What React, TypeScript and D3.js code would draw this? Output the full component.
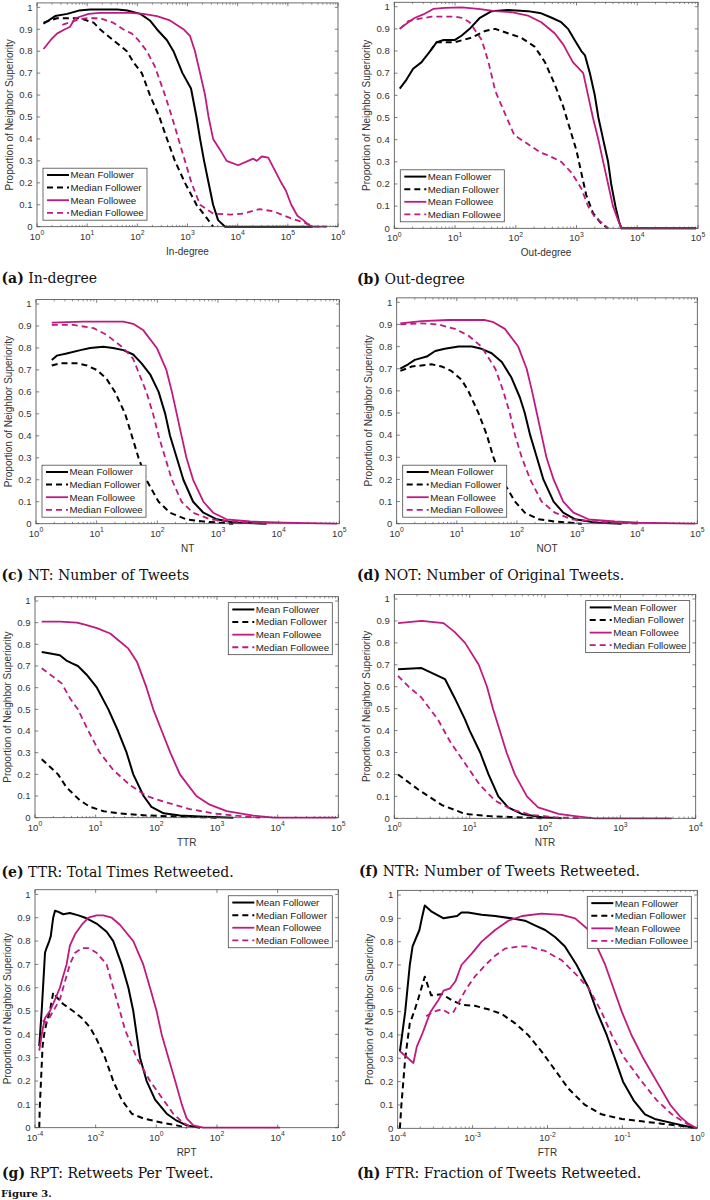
import React from 'react';
import * as d3 from 'd3';

type Pt = [number, number];

const SERIES_NAMES = ['Mean Follower', 'Median Follower', 'Mean Followee', 'Median Followee'];
const BLACK = '#000000';
const MAGENTA = '#BF1A80';

// ---------- (a) In-degree ----------
const inMeanFollower: Pt[] = [[1.35,0.925],[2.3,0.96],[4.0,0.97],[6.8,0.985],[11.5,0.99],[40,0.99],[63,0.985],[115,0.97],[178,0.94],[245,0.9],[390,0.85],[525,0.8],[795,0.7],[1175,0.63],[1510,0.5],[1780,0.4],[2140,0.3],[2630,0.2],[3240,0.1],[4070,0.03],[5620,0],[316000,0]];
const inMedianFollower: Pt[] = [[1.35,0.93],[2.5,0.95],[4.0,0.95],[7.2,0.95],[13.5,0.93],[18,0.9],[33,0.85],[62,0.8],[83,0.75],[123,0.7],[178,0.6],[275,0.5],[390,0.4],[560,0.3],[890,0.2],[1510,0.1],[2240,0.05],[3240,0]];
const inMeanFollowee: Pt[] = [[1.35,0.81],[1.86,0.85],[2.5,0.88],[3.6,0.9],[4.5,0.91],[5.8,0.95],[10.7,0.97],[18,0.975],[72,0.975],[132,0.97],[245,0.96],[447,0.94],[830,0.9],[1120,0.87],[1410,0.8],[1780,0.7],[2240,0.6],[2630,0.5],[3240,0.4],[4470,0.35],[6030,0.3],[10200,0.28],[16200,0.3],[20400,0.31],[24000,0.3],[30200,0.32],[40700,0.315],[51300,0.27],[74100,0.2],[91200,0.165],[117000,0.1],[155000,0.05],[204000,0.03],[251000,0.01],[316000,0],[589000,0]];
const inMedianFollowee: Pt[] = [[3.2,0.92],[6.8,0.945],[9.5,0.95],[18,0.95],[33,0.93],[52,0.9],[78,0.88],[105,0.85],[155,0.8],[224,0.73],[355,0.6],[490,0.5],[660,0.4],[890,0.3],[1200,0.2],[1780,0.1],[3240,0.06],[7080,0.055],[12900,0.06],[27500,0.08],[51300,0.07],[110000,0.04],[204000,0.02],[347000,0],[589000,0]];

// ---------- (b) Out-degree ----------
const outMeanFollower: Pt[] = [[1.23,0.63],[1.58,0.67],[2.04,0.72],[2.82,0.75],[3.0,0.76],[3.9,0.8],[5.0,0.84],[6.5,0.85],[10,0.85],[12.9,0.87],[17.4,0.9],[25.7,0.95],[40,0.98],[74,0.985],[158,0.98],[263,0.97],[390,0.95],[560,0.93],[725,0.9],[930,0.85],[1200,0.8],[1380,0.78],[1660,0.7],[2000,0.6],[2290,0.5],[2750,0.4],[3310,0.3],[3720,0.2],[4370,0.1],[5010,0.03],[5500,0],[93000,0]];
const outMedianFollower: Pt[] = [[3.9,0.8],[5.0,0.84],[10,0.84],[18.6,0.86],[31,0.89],[46,0.9],[74,0.88],[123,0.86],[204,0.82],[302,0.75],[437,0.65],[603,0.55],[776,0.45],[1000,0.35],[1200,0.25],[1445,0.15],[1860,0.07],[2570,0.02],[3310,0]];
const outMeanFollowee: Pt[] = [[1.23,0.9],[1.7,0.93],[2.19,0.95],[3.0,0.965],[4.37,0.99],[6.8,0.995],[12.9,0.997],[24,0.99],[46,0.98],[85,0.975],[158,0.96],[263,0.93],[437,0.88],[603,0.83],[870,0.75],[1290,0.7],[1550,0.6],[1860,0.5],[2290,0.4],[2750,0.3],[3310,0.2],[3980,0.1],[4790,0.04],[5500,0],[93000,0]];
const outMedianFollowee: Pt[] = [[1.23,0.9],[1.7,0.935],[2.5,0.945],[4.1,0.955],[10,0.955],[12.9,0.95],[17.4,0.93],[27.5,0.85],[35.5,0.75],[46,0.62],[59,0.55],[76,0.48],[95,0.42],[158,0.38],[263,0.34],[339,0.33],[562,0.3],[832,0.25],[1200,0.18],[1550,0.1],[2000,0.05],[2750,0.02],[3310,0]];

// ---------- (c) NT ----------
const ntMeanFollower: Pt[] = [[1.82,0.745],[2.2,0.765],[3.2,0.775],[5.4,0.79],[7.8,0.8],[12.9,0.805],[18.6,0.8],[27.5,0.79],[40,0.77],[55,0.73],[76,0.68],[105,0.6],[135,0.5],[162,0.4],[209,0.3],[269,0.2],[389,0.1],[575,0.05],[955,0.02],[1780,0.005],[6300,0]];
const ntMedianFollower: Pt[] = [[1.82,0.72],[2.5,0.73],[4.7,0.73],[6.9,0.72],[10,0.7],[14.5,0.66],[20,0.6],[29.5,0.5],[38,0.4],[49,0.3],[66,0.2],[105,0.1],[162,0.05],[302,0.02],[575,0.01],[1780,0]];
const ntMeanFollowee: Pt[] = [[1.82,0.915],[6.0,0.92],[27.5,0.92],[40,0.91],[59,0.88],[98,0.8],[141,0.7],[174,0.6],[209,0.5],[251,0.4],[302,0.3],[389,0.2],[575,0.1],[832,0.05],[1380,0.02],[3390,0.01],[12000,0.005],[91000,0]];
const ntMedianFollowee: Pt[] = [[1.82,0.905],[4.1,0.905],[8.9,0.89],[14.5,0.86],[27.5,0.8],[40,0.75],[66,0.6],[85,0.5],[105,0.4],[135,0.3],[174,0.2],[251,0.1],[389,0.05],[741,0.02],[1780,0.01],[6300,0]];

// ---------- (d) NOT ----------
const notMeanFollower: Pt[] = [[1.15,0.7],[1.55,0.72],[2.0,0.74],[3.16,0.755],[4.37,0.78],[6.3,0.79],[10.7,0.8],[17.8,0.8],[25.7,0.79],[38,0.77],[56,0.73],[81,0.66],[112,0.57],[135,0.5],[166,0.4],[214,0.3],[275,0.2],[407,0.1],[589,0.05],[933,0.02],[2000,0.005],[5500,0]];
const notMedianFollower: Pt[] = [[1.15,0.69],[1.78,0.71],[3.8,0.72],[5.6,0.71],[8.1,0.69],[12,0.65],[15.5,0.6],[22.9,0.5],[31.6,0.4],[40.7,0.3],[56,0.2],[93,0.1],[135,0.05],[229,0.02],[427,0.01],[1200,0]];
const notMeanFollowee: Pt[] = [[1.15,0.905],[2.6,0.915],[7.2,0.92],[29.5,0.92],[40.7,0.91],[63,0.88],[105,0.8],[145,0.7],[178,0.6],[214,0.5],[257,0.4],[309,0.3],[407,0.2],[589,0.1],[871,0.05],[1550,0.02],[4270,0.01],[10500,0.005],[91000,0]];
const notMedianFollowee: Pt[] = [[1.15,0.9],[2.6,0.905],[4.9,0.9],[9.3,0.88],[15.5,0.85],[25.7,0.8],[43.7,0.7],[59,0.6],[76,0.5],[93,0.4],[120,0.3],[166,0.2],[257,0.1],[427,0.05],[813,0.02],[2000,0.01],[10500,0]];

// ---------- (e) TTR ----------
const ttrMeanFollower: Pt[] = [[1.29,0.765],[2.0,0.755],[2.57,0.75],[3.3,0.725],[4.27,0.71],[5.1,0.7],[7.1,0.66],[10.5,0.6],[16.2,0.5],[23.4,0.4],[32.4,0.3],[41.7,0.2],[61.7,0.1],[83,0.05],[132,0.02],[245,0.01],[525,0.005],[1860,0]];
const ttrMedianFollower: Pt[] = [[1.29,0.27],[2.4,0.2],[3.3,0.14],[5.5,0.08],[8.1,0.05],[13.5,0.03],[25,0.02],[54,0.012],[115,0.008],[282,0.005],[1000,0]];
const ttrMeanFollowee: Pt[] = [[1.29,0.905],[2.57,0.905],[4.9,0.9],[6.9,0.89],[10.5,0.875],[17.4,0.85],[23.4,0.82],[34.7,0.78],[47.9,0.72],[69,0.6],[89,0.5],[123,0.4],[170,0.3],[245,0.2],[457,0.1],[759,0.06],[1450,0.03],[2400,0.02],[3980,0.01],[8500,0],[93000,0]];
const ttrMedianFollowee: Pt[] = [[1.29,0.69],[2.0,0.65],[2.75,0.62],[3.8,0.55],[5.1,0.5],[7.6,0.4],[11.7,0.3],[19.5,0.22],[37,0.15],[69,0.1],[148,0.07],[355,0.04],[871,0.02],[1860,0.01],[5100,0]];

// ---------- (f) NTR ----------
const ntrMeanFollower: Pt[] = [[1.12,0.68],[2.3,0.685],[4.7,0.635],[6.3,0.55],[8.7,0.45],[10,0.4],[13.8,0.3],[17.8,0.2],[24,0.1],[32.4,0.05],[49,0.02],[91,0.005],[166,0]];
const ntrMedianFollower: Pt[] = [[1.12,0.2],[2.1,0.13],[4.3,0.06],[8.7,0.02],[17.8,0.01],[40,0.005],[91,0]];
const ntrMeanFollowee: Pt[] = [[1.12,0.89],[2.3,0.9],[4.5,0.89],[6.3,0.85],[8.7,0.8],[13.2,0.7],[17,0.6],[20.4,0.5],[25.1,0.4],[30.9,0.3],[39.8,0.2],[57.5,0.1],[81,0.05],[151,0.02],[251,0.01],[457,0],[4790,0]];
const ntrMedianFollowee: Pt[] = [[1.12,0.65],[1.55,0.6],[2.3,0.55],[3.8,0.45],[5.5,0.35],[8.7,0.25],[13.8,0.15],[21.9,0.08],[36.3,0.04],[66,0.015],[135,0.005],[309,0]];

// ---------- (g) RPT ----------
const rptMeanFollower: Pt[] = [[1.38e-4,0.35],[1.66e-4,0.5],[2.14e-4,0.75],[2.4e-4,0.77],[2.95e-4,0.8],[3.3e-4,0.82],[3.98e-4,0.9],[4.57e-4,0.93],[5.9e-4,0.925],[8.5e-4,0.915],[1.41e-3,0.92],[2.7e-3,0.91],[4.5e-3,0.9],[0.0107,0.875],[0.023,0.84],[0.038,0.8],[0.072,0.7],[0.12,0.6],[0.174,0.5],[0.224,0.4],[0.29,0.3],[0.48,0.2],[0.91,0.12],[2.2,0.06],[4.7,0.03],[10,0.01],[27.5,0]];
const rptMedianFollower: Pt[] = [[1.38e-4,0],[1.45e-4,0.1],[1.78e-4,0.35],[2.0e-4,0.4],[2.4e-4,0.45],[3.1e-4,0.5],[4.0e-4,0.58],[5.1e-4,0.56],[8.5e-4,0.53],[1.8e-3,0.5],[3.5e-3,0.47],[6.5e-3,0.43],[0.0107,0.38],[0.0204,0.3],[0.038,0.2],[0.072,0.12],[0.155,0.06],[0.37,0.04],[1.7,0.02],[4.7,0.01],[10,0]];
const rptMeanFollowee: Pt[] = [[1.38e-4,0.33],[1.78e-4,0.42],[2.14e-4,0.47],[3.1e-4,0.5],[4.6e-4,0.55],[6.6e-4,0.6],[8.5e-4,0.65],[1.1e-3,0.7],[1.41e-3,0.78],[2.1e-3,0.83],[3.5e-3,0.87],[5.8e-3,0.9],[0.0107,0.91],[0.0178,0.91],[0.034,0.9],[0.063,0.87],[0.174,0.8],[0.37,0.7],[0.62,0.6],[1.02,0.5],[1.5,0.4],[2.5,0.3],[4.2,0.2],[6.9,0.1],[10,0.04],[16.6,0.01],[35,0],[12000,0]];
const rptMedianFollowee: Pt[] = [[1.78e-4,0.46],[2.4e-4,0.45],[4.0e-4,0.5],[6.6e-4,0.55],[8.5e-4,0.6],[1.41e-3,0.7],[2.1e-3,0.75],[3.5e-3,0.77],[5.8e-3,0.77],[0.0107,0.75],[0.023,0.7],[0.038,0.6],[0.063,0.5],[0.093,0.42],[0.224,0.3],[0.62,0.2],[1.7,0.12],[3.6,0.06],[7.8,0.02],[16.6,0]];

// ---------- (h) FTR ----------
const ftrMeanFollower: Pt[] = [[1.07e-4,0.33],[1.26e-4,0.5],[1.45e-4,0.7],[1.58e-4,0.78],[1.78e-4,0.82],[1.95e-4,0.85],[2.1e-4,0.9],[2.3e-4,0.955],[2.8e-4,0.93],[4.1e-4,0.9],[4.9e-4,0.905],[6.2e-4,0.91],[7.1e-4,0.925],[8.7e-4,0.925],[1.32e-3,0.915],[2.0e-3,0.91],[3.3e-3,0.9],[5.0e-3,0.89],[6.8e-3,0.87],[9.3e-3,0.85],[0.0126,0.82],[0.017,0.78],[0.0245,0.7],[0.0355,0.6],[0.0457,0.5],[0.0617,0.4],[0.0794,0.3],[0.102,0.2],[0.141,0.12],[0.2,0.06],[0.27,0.04],[0.5,0.02],[0.69,0.01],[0.98,0]];
const ftrMedianFollower: Pt[] = [[1.07e-4,0],[1.12e-4,0.1],[1.26e-4,0.3],[1.45e-4,0.45],[1.66e-4,0.5],[1.86e-4,0.55],[2.3e-4,0.65],[2.6e-4,0.6],[2.8e-4,0.57],[3.9e-4,0.575],[5.2e-4,0.55],[7.1e-4,0.53],[1.07e-3,0.525],[1.62e-3,0.51],[2.45e-3,0.49],[3.7e-3,0.45],[5.5e-3,0.4],[8.3e-3,0.33],[0.0126,0.25],[0.019,0.17],[0.0316,0.1],[0.0525,0.06],[0.098,0.04],[0.182,0.03],[0.33,0.02],[0.62,0.01],[0.98,0]];
const ftrMeanFollowee: Pt[] = [[1.07e-4,0.33],[1.38e-4,0.3],[1.62e-4,0.28],[1.8e-4,0.35],[2.1e-4,0.4],[2.4e-4,0.45],[2.75e-4,0.5],[3.5e-4,0.55],[4.1e-4,0.59],[5.0e-4,0.6],[5.9e-4,0.63],[7.1e-4,0.7],[9.8e-4,0.75],[1.32e-3,0.8],[2.0e-3,0.85],[3.0e-3,0.89],[4.6e-3,0.91],[8.3e-3,0.92],[0.0155,0.915],[0.0234,0.9],[0.0355,0.85],[0.0427,0.8],[0.059,0.7],[0.076,0.6],[0.098,0.5],[0.132,0.4],[0.19,0.3],[0.234,0.25],[0.288,0.2],[0.437,0.1],[0.59,0.05],[0.76,0.02],[0.98,0]];
const ftrMedianFollowee: Pt[] = [[2.4e-4,0.48],[3.0e-4,0.5],[3.9e-4,0.51],[5.0e-4,0.49],[5.6e-4,0.5],[6.8e-4,0.55],[8.3e-4,0.6],[1.07e-3,0.65],[1.48e-3,0.7],[2.0e-3,0.74],[2.7e-3,0.77],[4.1e-3,0.78],[5.5e-3,0.78],[9.3e-3,0.76],[0.0155,0.72],[0.0257,0.65],[0.0355,0.6],[0.0525,0.5],[0.072,0.4],[0.107,0.3],[0.182,0.2],[0.288,0.12],[0.457,0.06],[0.72,0.02],[0.98,0]];

const Y_TICKS = [0, 0.1, 0.2, 0.3, 0.4, 0.5, 0.6, 0.7, 0.8, 0.9, 1];
const Y_LABEL = 'Proportion of Neighbor Superiority';

// panel descriptions (text + data refs)
const PANELS = [
  { tag: '(a)', caption: 'In-degree', xlabel: 'In-degree', xExp: [0, 6], step: 1, minor: true, legend: 'sw', data: [inMeanFollower, inMedianFollower, inMeanFollowee, inMedianFollowee] },
  { tag: '(b)', caption: 'Out-degree', xlabel: 'Out-degree', xExp: [0, 5], step: 1, minor: true, legend: 'sw', data: [outMeanFollower, outMedianFollower, outMeanFollowee, outMedianFollowee] },
  { tag: '(c)', caption: 'NT: Number of Tweets', xlabel: 'NT', xExp: [0, 5], step: 1, minor: true, legend: 'sw', data: [ntMeanFollower, ntMedianFollower, ntMeanFollowee, ntMedianFollowee] },
  { tag: '(d)', caption: 'NOT: Number of Original Tweets.', xlabel: 'NOT', xExp: [0, 5], step: 1, minor: true, legend: 'sw', data: [notMeanFollower, notMedianFollower, notMeanFollowee, notMedianFollowee] },
  { tag: '(e)', caption: 'TTR: Total Times Retweeted.', xlabel: 'TTR', xExp: [0, 5], step: 1, minor: true, legend: 'ne', data: [ttrMeanFollower, ttrMedianFollower, ttrMeanFollowee, ttrMedianFollowee] },
  { tag: '(f)', caption: 'NTR: Number of Tweets Retweeted.', xlabel: 'NTR', xExp: [0, 4], step: 1, minor: true, legend: 'ne', data: [ntrMeanFollower, ntrMedianFollower, ntrMeanFollowee, ntrMedianFollowee] },
  { tag: '(g)', caption: 'RPT: Retweets Per Tweet.', xlabel: 'RPT', xExp: [-4, 6], step: 2, minor: false, legend: 'ne', data: [rptMeanFollower, rptMedianFollower, rptMeanFollowee, rptMedianFollowee] },
  { tag: '(h)', caption: 'FTR: Fraction of Tweets Retweeted.', xlabel: 'FTR', xExp: [-4, 0], step: 1, minor: true, legend: 'ne', data: [ftrMeanFollower, ftrMedianFollower, ftrMeanFollowee, ftrMedianFollowee] },
];

// layout (pixels): plot left, right, y of value 0, y of value 1, caption baseline, caption x
const LAYOUT = [
  { l: 37, r: 338, y0: 226.7, y1: 7.3, cy: 283, cx: 1.5 },
  { l: 394.3, r: 698, y0: 228.3, y1: 6.7, cy: 284, cx: 357 },
  { l: 36, r: 339.3, y0: 523.7, y1: 304, cy: 580, cx: 1.5 },
  { l: 396.7, r: 697.3, y0: 523.7, y1: 302.3, cy: 580, cx: 357 },
  { l: 35, r: 338.3, y0: 817.7, y1: 601, cy: 877, cx: 1.5 },
  { l: 394.3, r: 695.7, y0: 818.3, y1: 599, cy: 876, cx: 359 },
  { l: 35, r: 338.3, y0: 1127.7, y1: 894.4, cy: 1178, cx: 2 },
  { l: 397.7, r: 697.3, y0: 1128.3, y1: 895, cy: 1178, cx: 357 },
];

const STYLES = [
  { color: BLACK, dash: '', width: 2 },
  { color: BLACK, dash: '6,4', width: 2 },
  { color: MAGENTA, dash: '', width: 1.8 },
  { color: MAGENTA, dash: '6,4', width: 1.8 },
];

const AX = '#4a4a4a';
const SANS = '"Liberation Sans", Arial, Helvetica, sans-serif';
const SERIF = '"DejaVu Serif", "Liberation Serif", serif';

function Panel({ p, L }: { p: typeof PANELS[number]; L: typeof LAYOUT[number] }) {
  const x = d3.scaleLog().domain([10 ** p.xExp[0], 10 ** p.xExp[1]]).range([L.l, L.r]);
  const y = d3.scaleLinear().domain([0, 1]).range([L.y0, L.y1]);
  const top = y(1.02);
  const bottom = L.y0;
  const line = d3.line<Pt>().x(d => x(d[0])).y(d => y(d[1]));

  const majors: number[] = [];
  for (let e = p.xExp[0]; e <= p.xExp[1]; e += p.step) majors.push(e);
  const minors: number[] = [];
  if (p.minor) {
    for (let e = p.xExp[0]; e < p.xExp[1]; e++) {
      for (let m = 2; m <= 9; m++) minors.push(m * 10 ** e);
    }
  }

  const lw = 104, lh = 52;
  const lx = p.legend === 'sw' ? L.l + 6 : L.r - 6 - lw;
  const ly = p.legend === 'sw' ? bottom - 6.5 - lh : top + 6;

  return (
    <g>
      <rect x={L.l} y={top} width={L.r - L.l} height={bottom - top} fill="#fff" />
      {p.data.map((d, i) => (
        <path key={i} d={line(d) || ''} fill="none" stroke={STYLES[i].color}
          strokeWidth={STYLES[i].width} strokeDasharray={STYLES[i].dash || undefined}
          strokeLinejoin="round" />
      ))}
      <rect x={L.l} y={top} width={L.r - L.l} height={bottom - top} fill="none" stroke={AX} strokeWidth={0.8} />
      {Y_TICKS.map(t => (
        <g key={'y' + t}>
          <line x1={L.l} x2={L.l + 3.2} y1={y(t)} y2={y(t)} stroke={AX} strokeWidth={0.7} />
          <line x1={L.r} x2={L.r - 3.2} y1={y(t)} y2={y(t)} stroke={AX} strokeWidth={0.7} />
          <text x={L.l - 4.5} y={y(t) + 3.3} textAnchor="end" fontSize={9.5} fontFamily={SANS} fill="#333">
            {t === 0 ? '0' : t === 1 ? '1' : t.toFixed(1)}
          </text>
        </g>
      ))}
      {majors.map(e => (
        <g key={'x' + e}>
          <line x1={x(10 ** e)} x2={x(10 ** e)} y1={bottom} y2={bottom - 3.2} stroke={AX} strokeWidth={0.7} />
          <line x1={x(10 ** e)} x2={x(10 ** e)} y1={top} y2={top + 3.2} stroke={AX} strokeWidth={0.7} />
          <text x={x(10 ** e)} y={bottom + 12.8} textAnchor="middle" fontSize={9.5} fontFamily={SANS} fill="#333">
            10<tspan dy={-4.5} fontSize={6.8}>{e}</tspan>
          </text>
        </g>
      ))}
      {minors.map((v, i) => (
        <g key={'m' + i}>
          <line x1={x(v)} x2={x(v)} y1={bottom} y2={bottom - 1.8} stroke={AX} strokeWidth={0.6} />
          <line x1={x(v)} x2={x(v)} y1={top} y2={top + 1.8} stroke={AX} strokeWidth={0.6} />
        </g>
      ))}
      <text x={(L.l + L.r) / 2} y={bottom + 28} textAnchor="middle" fontSize={10} fontFamily={SANS} fill="#333">{p.xlabel}</text>
      <text transform={`translate(${L.l - 24.5},${(top + bottom) / 2}) rotate(-90)`} textAnchor="middle" fontSize={10} fontFamily={SANS} fill="#333">{Y_LABEL}</text>
      <rect x={lx} y={ly} width={lw} height={lh} fill="#fff" stroke={AX} strokeWidth={0.8} />
      {SERIES_NAMES.map((n, i) => {
        const ry = ly + 6.8 + i * 12.6;
        return (
          <g key={n}>
            <line x1={lx + 4} x2={lx + 26} y1={ry} y2={ry} stroke={STYLES[i].color} strokeWidth={STYLES[i].width}
              strokeDasharray={STYLES[i].dash || undefined} />
            <text x={lx + 27.5} y={ry + 3.4} fontSize={9.7} fontFamily={SANS} fill="#222">{n}</text>
          </g>
        );
      })}
      <text x={L.cx} y={L.cy} fontSize={14} fontFamily={SERIF} fill="#111">
        <tspan fontWeight="bold">{p.tag}</tspan> {p.caption}
      </text>
    </g>
  );
}

export default function App() {
  return (
    <div style={{ position: 'absolute', left: 0, top: 0 }}>
      <svg width={710} height={1200} viewBox="0 0 710 1200" style={{ display: 'block', background: '#fff' }}>
        <rect width={710} height={1200} fill="#fff" />
        {PANELS.map((p, i) => <Panel key={i} p={p} L={LAYOUT[i]} />)}
        <text x={1} y={1197} fontSize={10} fontWeight="bold" fontFamily={SERIF} fill="#111">Figure 3.</text>
      </svg>
    </div>
  );
}
